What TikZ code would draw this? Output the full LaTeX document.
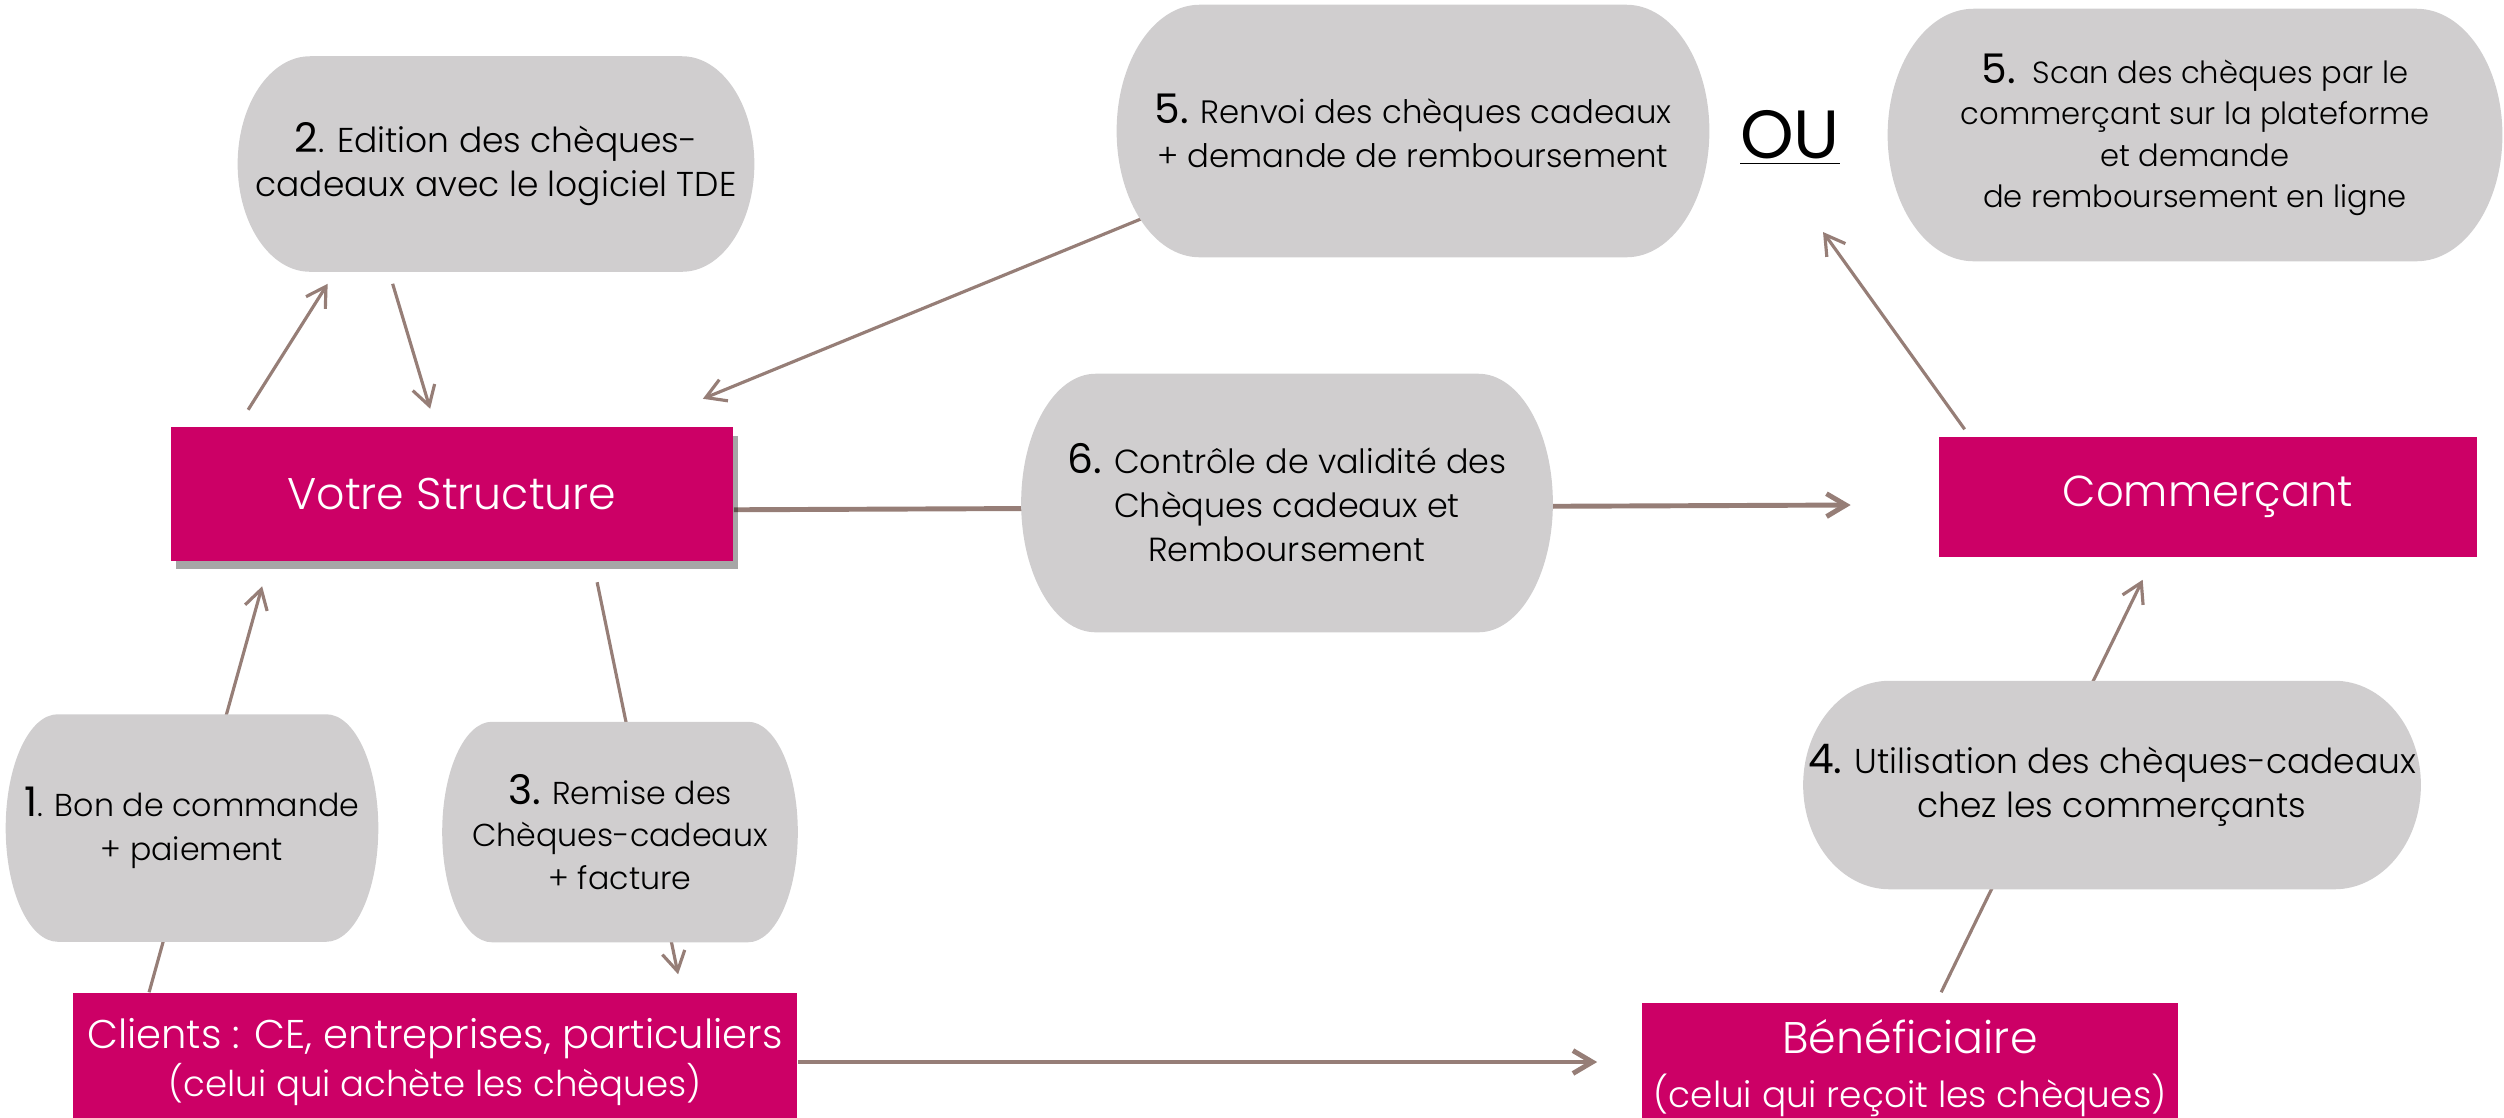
\documentclass[tikz,border=0pt]{standalone}
\usepackage{fontspec}
\setmainfont{Poppins Light}
\newfontfamily\chiffre{Poppins}
\usetikzlibrary{calc,backgrounds,shadows,arrows.meta}

\definecolor{framboise}{RGB}{204,0,102}
\definecolor{grisbulle}{RGB}{208,206,207}
\definecolor{taupe}{RGB}{150,126,119}

\tikzset{
  etape/.style={inner sep=0pt, align=center, font=\fontsize{9.8}{12.5}\selectfont},
  acteur/.style={fill=framboise, text=white, inner sep=0pt, align=center},
  fleche/.style={draw=taupe, line width=0.9pt, -{Straight Barb[length=5.5pt,width=6.5pt]}},
}
\newcommand{\num}[1]{{\chiffre\fontsize{11.6}{12.5}\selectfont #1}}
\newcommand{\bulle}[1]{%
  \fill[grisbulle] let \p1=(#1.north west), \p2=(#1.south east),
    \n1={0.14*(\x2-\x1)}, \n2={0.5*(\y1-\y2)} in
    (\x1+\n1,\y1) -- (\x2-\n1,\y1)
    arc[start angle=90, end angle=-90, x radius=\n1, y radius=\n2]
    -- (\x1+\n1,\y2)
    arc[start angle=270, end angle=90, x radius=\n1, y radius=\n2] -- cycle;}

\begin{document}
\begin{tikzpicture}[x=0.01cm, y=-0.01cm]
    \useasboundingbox (0, 0) rectangle (2504, 1117);

    % acteurs
    \node[acteur, minimum width=5.62cm, minimum height=1.33cm, font=\fontsize{12.6}{15}\selectfont,
          drop shadow={shadow xshift=1.5pt, shadow yshift=-2.5pt, opacity=0.35, fill=black}]
          at (452, 494) (structure) {Votre Structure};
    \node[acteur, minimum width=5.37cm, minimum height=1.20cm, font=\fontsize{12.3}{15}\selectfont]
          at (2208, 497) (commercant) {Commerçant};
    \node[acteur, minimum width=7.24cm, minimum height=1.38cm, font=\fontsize{11.4}{13.7}\selectfont]
          at (435, 1062) (clients) {Clients : CE, entreprises, particuliers\\{\fontsize{10.1}{13.7}\selectfont (celui qui achète les chèques)}};
    \node[acteur, minimum width=5.36cm, minimum height=1.30cm, font=\fontsize{12.6}{15.4}\selectfont]
          at (1910, 1068) (beneficiaire) {Bénéficiaire\\{\fontsize{10.2}{15.4}\selectfont (celui qui reçoit les chèques)}};

    % etapes
    \node[etape, minimum width=5.15cm, minimum height=2.14cm] at (496, 164) (edition)
          {\num{2}. Edition des chèques-\\cadeaux avec le logiciel TDE};
    \node[etape, minimum width=5.91cm, minimum height=2.51cm, font=\fontsize{9.2}{12.5}\selectfont] at (1413, 131) (renvoi)
          {\num{5.} Renvoi des chèques cadeaux\\+ demande de remboursement};
    \node[font=\chiffre\fontsize{19.4}{22}\selectfont] at (1790, 138) (ou) {\underline{OU}};
    \node[etape, minimum width=6.13cm, minimum height=2.51cm, font=\fontsize{8.7}{11.8}\selectfont] at (2195, 135) (scan)
          {\num{5.}\ \ Scan des chèques par le\\commerçant sur la plateforme\\et demande\\ de remboursement en ligne};
    \node[etape, minimum width=5.30cm, minimum height=2.57cm, font=\fontsize{9.5}{12.5}\selectfont] at (1287, 503) (controle)
          {\num{6.} Contrôle de validité des\\Chèques cadeaux et\\Remboursement};
    \node[etape, minimum width=3.71cm, minimum height=2.26cm, font=\fontsize{9}{12.5}\selectfont] at (192, 828) (commande)
          {\num{1}. Bon de commande\\+ paiement};
    \node[etape, minimum width=3.54cm, minimum height=2.19cm, font=\fontsize{9}{12}\selectfont] at (620, 832) (remise)
          {\num{3.} Remise des\\Chèques-cadeaux\\+ facture};
    \node[etape, minimum width=6.16cm, minimum height=2.07cm] at (2112, 785) (utilisation)
          {\num{4.} Utilisation des chèques-cadeaux\\chez les commerçants};

    \begin{pgfonlayer}{background}
    % liaisons
    \draw[fleche] ($(clients.north west)+(77,0)$) -- ($(structure.south west)+(92,25)$);
    \draw[fleche] ($(structure.south west)+(427,21)$) -- ($(clients.north west)+(606,-18)$);
    \draw[fleche] ($(structure.north west)+(78,-17)$) -- ($(edition.south west)+(90,12)$);
    \draw[fleche] ($(edition.south west)+(155,12)$) -- ($(structure.north west)+(260,-18)$);
    \draw[fleche] ($(renvoi.south west)+(26,-39)$) -- ($(structure.north east)+(-31,-28)$);
    \draw[fleche, line width=1.4pt] ($(structure.north east)+(0,83)$) -- ($(commercant.west)+(-88,8)$);
    \draw[fleche] ($(commercant.north west)+(26,-7)$) -- ($(ou.center)+(33,94)$);
    \draw[fleche, line width=1.4pt] (clients.east) -- ($(beneficiaire.west |- clients.east)+(-44,0)$);
    \draw[fleche] ($(beneficiaire.north west)+(300,-10)$) -- ($(commercant.south west)+(204,22)$);

    % bulles
    \foreach \b in {edition, renvoi, scan, controle, commande, remise, utilisation}
        {\bulle{\b}}
    \end{pgfonlayer}

\end{tikzpicture}
\end{document}
